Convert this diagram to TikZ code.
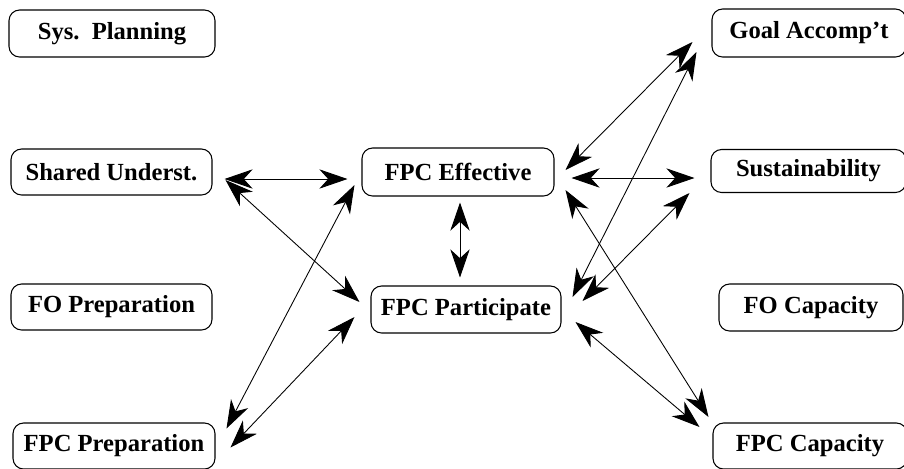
\documentclass[tikz,border=0pt]{standalone}
\usepackage{fontspec}
\setmainfont{Liberation Serif}
\usetikzlibrary{arrows.meta}
\begin{document}
\begin{tikzpicture}[x=0.02cm, y=-0.02cm,
    >={Stealth[length=16pt, width=11pt, inset=5pt]},
    blk/.style={draw, line width=0.6pt, rounded corners=6pt, inner sep=0pt,
                font=\fontsize{14}{16}\selectfont\bfseries},
    link/.style={<->, line width=0.5pt}]
    \useasboundingbox (0,0) rectangle (904,468);

    % ── left column ──────────────────────────────────────────────────
    \node[blk, minimum width=4.12cm, minimum height=0.94cm] (sys)     at (112,33.5) {Sys.\ \ Planning};
    \node[blk, minimum width=4.02cm, minimum height=0.92cm] (shared)  at (111.5,172) {Shared Underst.};
    \node[blk, minimum width=4.02cm, minimum height=0.92cm] (foprep)  at (111.5,307) {FO Preparation};
    \node[blk, minimum width=4.04cm, minimum height=0.92cm] (fpcprep) at (114,446)  {FPC Preparation};

    % ── centre ───────────────────────────────────────────────────────
    \node[blk, minimum width=3.84cm, minimum height=0.96cm] (eff)  at (458,172)   {FPC Effective};
    \node[blk, minimum width=3.80cm, minimum height=0.94cm] (part) at (466,309.5) {FPC Participate};

    % ── right column (cut by the page edge) ──────────────────────────
    \node[blk, minimum width=3.88cm, minimum height=0.96cm] (goal)   at (809,33)    {Goal Accomp't};
    \node[blk, minimum width=3.90cm, minimum height=0.86cm] (sust)   at (808.5,171) {Sustainability};
    \node[blk, minimum width=3.68cm, minimum height=0.94cm] (focap)  at (811,307.5) {FO Capacity};
    \node[blk, minimum width=3.88cm, minimum height=0.92cm] (fpccap) at (810,446)   {FPC Capacity};

    % ── links ────────────────────────────────────────────────────────
    \draw[link] ([shift={(12,7)}]shared.east) -- ([shift={(-14,7)}]eff.west);
    \draw[link] ([shift={(13,8)}]shared.east) -- ([shift={(-11,-7.5)}]part.west);
    \draw[link] ([shift={(11,-17.5)}]fpcprep.east) -- ([shift={(-7,13)}]eff.west);
    \draw[link] ([shift={(15,1.5)}]fpcprep.east) -- ([shift={(-16,7.5)}]part.west);
    \draw[link] ([shift={(2,6)}]eff.south) -- ([shift={(-6,-8)}]part.north);
    \draw[link] ([shift={(11,-2)}]eff.east) -- ([shift={(-19,9)}]goal.west);
    \draw[link] ([shift={(11,-12.5)}]part.east) -- ([shift={(-15,19)}]goal.west);
    \draw[link] ([shift={(17,6)}]eff.east) -- ([shift={(-16,7)}]sust.west);
    \draw[link] ([shift={(21,-8.5)}]part.east) -- ([shift={(-21,22)}]sust.west);
    \draw[link] ([shift={(11,18)}]eff.east) -- ([shift={(-4,-29)}]fpccap.west);
    \draw[link] ([shift={(14,12.5)}]part.east) -- ([shift={(-13,-19)}]fpccap.west);
\end{tikzpicture}
\end{document}
